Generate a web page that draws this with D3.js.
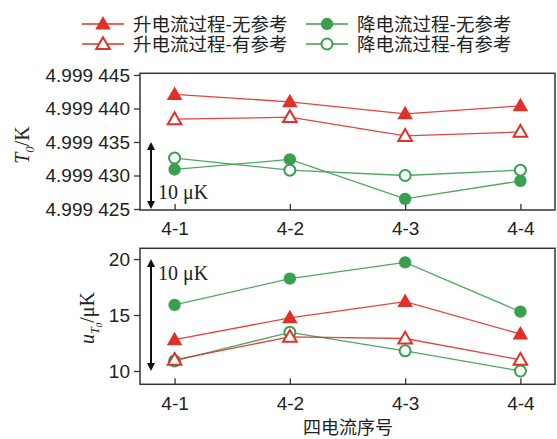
<!DOCTYPE html>
<html><head><meta charset="utf-8">
<script src="https://cdn.jsdelivr.net/npm/d3@7"></script>
<style>body{margin:0;background:#fff}svg{display:block}</style>
</head><body>
<script>
const categories = ["4-1","4-2","4-3","4-4"];
const seriesNames = ["升电流过程-无参考","升电流过程-有参考","降电流过程-无参考","降电流过程-有参考"];
// T0 in K
const upNoRefT = [4.9994421, 4.9994410, 4.9994392, 4.9994404];
const upRefT   = [4.9994384, 4.9994387, 4.9994359, 4.9994365];
const downNoRefT = [4.9994309, 4.9994324, 4.9994265, 4.9994292];
const downRefT   = [4.9994326, 4.9994308, 4.9994300, 4.9994308];
// u_T0 in µK
const upNoRefU = [12.8, 14.75, 16.2, 13.3];
const upRefU   = [11.0, 13.05, 12.9, 11.0];
const downNoRefU = [15.9, 18.25, 19.7, 15.3];
const downRefU   = [10.9, 13.45, 11.8, 10.0];
const topTicks = [4.999425, 4.999430, 4.999435, 4.999440, 4.999445];
const bottomTicks = [10, 15, 20];

const W = 557, H = 439;
const RED = "#e0302a", GREEN = "#38a04f";
const svg = d3.select("body").append("svg").attr("width", W).attr("height", H);

const styles = [
  {color: RED, shape: d3.symbolTriangle, filled: true},
  {color: RED, shape: d3.symbolTriangle, filled: false},
  {color: GREEN, shape: d3.symbolCircle, filled: true},
  {color: GREEN, shape: d3.symbolCircle, filled: false}
];
const topSeries = [upNoRefT, upRefT, downNoRefT, downRefT];
const botSeries = [upNoRefU, upRefU, downNoRefU, downRefU];
const drawOrder = [2, 3, 0, 1];

const left = 140, right = 555;
const x = d3.scalePoint().domain(categories).range([left, right]).padding(0.3);

function marker(g, st, cx, cy) {
  const isTri = st.shape === d3.symbolTriangle;
  const size = isTri ? (st.filled ? 105 : 80) : (st.filled ? 120 : 95);
  g.append("path")
    .attr("d", d3.symbol().type(st.shape).size(size)())
    .attr("transform", `translate(${cx},${cy + (isTri ? 1 : 0)})`)
    .attr("fill", st.filled ? st.color : "#fff")
    .attr("stroke", st.color)
    .attr("stroke-width", st.filled ? 0 : 2);
}

function panel(top, bottom, domain, ticks, tickFmt, series, arrowFrom, arrowTo, textY) {
  const y = d3.scaleLinear().domain(domain).range([bottom, top]);
  const g = svg.append("g");
  g.append("rect").attr("x", left).attr("y", top).attr("width", right - left).attr("height", bottom - top)
    .attr("fill", "none").attr("stroke", "#333").attr("stroke-width", 1.5);
  const ya = g.append("g").attr("transform", `translate(${left},0)`)
    .call(d3.axisLeft(y).tickValues(ticks).tickFormat(tickFmt).tickSize(6).tickPadding(4));
  ya.select(".domain").remove();
  ya.selectAll("line").attr("stroke", "#333").attr("stroke-width", 1.3);
  ya.selectAll("text").attr("font-family", "Liberation Sans, Arial, sans-serif").attr("font-size", 19).attr("fill", "#222");
  const xa = g.append("g").attr("transform", `translate(0,${bottom})`)
    .call(d3.axisBottom(x).tickSizeInner(-6).tickSizeOuter(0).tickPadding(12));
  xa.select(".domain").remove();
  xa.selectAll("line").attr("stroke", "#333").attr("stroke-width", 1.3);
  xa.selectAll("text").attr("font-family", "Liberation Sans, Arial, sans-serif").attr("font-size", 19).attr("fill", "#222");
  const line = d3.line().x((d, i) => x(categories[i])).y(d => y(d));
  drawOrder.forEach(si => {
    g.append("path").attr("d", line(series[si])).attr("fill", "none")
      .attr("stroke", styles[si].color).attr("stroke-width", 1.3).attr("opacity", 0.9);
  });
  drawOrder.forEach(si => {
    series[si].forEach((v, i) => marker(g, styles[si], x(categories[i]), y(v)));
  });
  const ax = 151;
  const y1 = y(arrowFrom), y2 = y(arrowTo);
  g.append("line").attr("x1", ax).attr("x2", ax).attr("y1", y1 + 5).attr("y2", y2 - 5)
    .attr("stroke", "#111").attr("stroke-width", 2);
  g.append("path").attr("d", `M${ax},${y1} L${ax-4},${y1+8} L${ax+4},${y1+8} Z`).attr("fill", "#111");
  g.append("path").attr("d", `M${ax},${y2} L${ax-4},${y2-8} L${ax+4},${y2-8} Z`).attr("fill", "#111");
  g.append("text").attr("x", 158).attr("y", textY).attr("font-family", "Liberation Serif, Times New Roman, serif")
    .attr("font-size", 20).attr("fill", "#222").text("10 μK");
  return y;
}

const fmtT = v => { const s = d3.format(".6f")(v); return s.slice(0, 5) + " " + s.slice(5); };
panel(73.3, 210, [4.99942485, 4.99944525], topTicks, fmtT, topSeries, 4.999435, 4.999425, 199);
panel(248.3, 384.3, [8.81, 20.96], bottomTicks, d3.format("d"), botSeries, 20, 10, 280);

const serif = "Liberation Serif, Times New Roman, serif";
const t1 = svg.append("text").attr("transform", "translate(29,145) rotate(-90)")
  .attr("text-anchor", "middle").attr("font-family", serif).attr("font-size", 20).attr("fill", "#222");
t1.append("tspan").attr("font-style", "italic").text("T");
t1.append("tspan").attr("font-size", 13).attr("dy", 5).attr("font-style", "italic").text("0");
t1.append("tspan").attr("dy", -5).text("/K");

const t2 = svg.append("text").attr("transform", "translate(94,318) rotate(-90)")
  .attr("text-anchor", "middle").attr("font-family", serif).attr("font-size", 20).attr("fill", "#222");
t2.append("tspan").attr("font-style", "italic").text("u");
t2.append("tspan").attr("font-size", 12).attr("dy", 5).attr("font-style", "italic").text("T");
t2.append("tspan").attr("font-size", 9).attr("dy", 3).attr("font-style", "italic").text("0");
t2.append("tspan").attr("dy", -8).text("/μK");

svg.append("text").attr("x", 348).attr("y", 434).attr("text-anchor", "middle")
  .attr("font-family", "Noto Sans CJK SC, sans-serif").attr("font-size", 18).attr("fill", "#222").text("四电流序号");

const legendPos = [
  {lx: 82, ly: 24}, {lx: 82, ly: 44}, {lx: 306, ly: 24}, {lx: 306, ly: 44}
];
seriesNames.forEach((name, i) => {
  const p = legendPos[i], st = styles[i];
  const lg = svg.append("g");
  lg.append("line").attr("x1", p.lx).attr("x2", p.lx + 42).attr("y1", p.ly).attr("y2", p.ly)
    .attr("stroke", st.color).attr("stroke-width", 1.5);
  marker(lg, st, p.lx + 21, p.ly);
  lg.append("text").attr("x", p.lx + 51).attr("y", p.ly).attr("dy", "0.36em")
    .attr("font-family", "Noto Sans CJK SC, sans-serif").attr("font-size", 18.5).attr("fill", "#222").text(name);
});
</script>
</body></html>
